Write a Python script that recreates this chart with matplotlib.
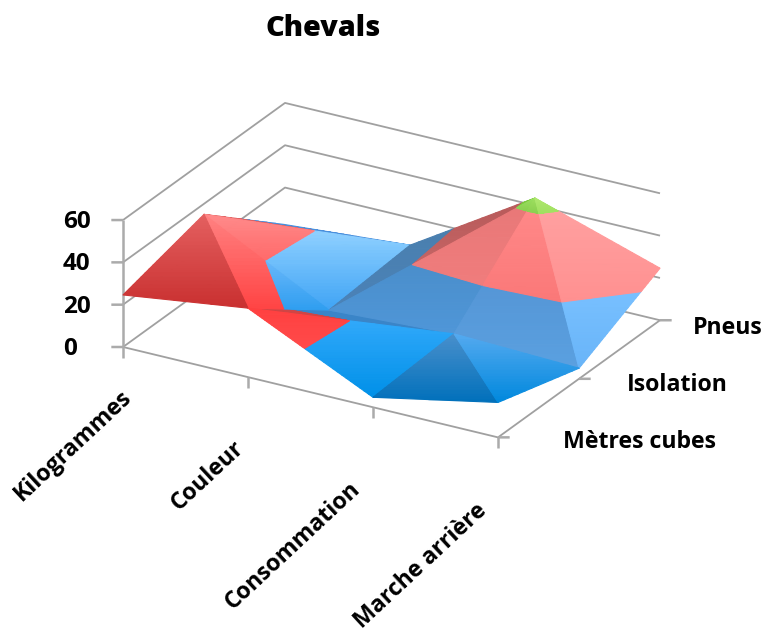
import numpy as np
import matplotlib
matplotlib.use("Agg")
import matplotlib.pyplot as plt
from mpl_toolkits.mplot3d import proj3d
from mpl_toolkits.mplot3d.art3d import Poly3DCollection

plt.rcParams['font.family'] = ['Open Sans', 'DejaVu Sans']

# values
categories = ['Kilogrammes', 'Couleur', 'Consommation', 'Marche arrière']
series = ['Mètres cubes', 'Isolation', 'Pneus']
metres_cubes = [24.6, 32.6, 4.7, 16.5]
isolation = [35, 4, 7, 5]
pneus = [2.5, 7, 43.5, 24.6]
z_ticks = [0, 20, 40, 60]

Z = np.array([metres_cubes, isolation, pneus])  # row = series, col = category

# triangles as (category, series), back to front, (bottom, top) colour per band
faces = [
    ([(0, 1), (0, 2), (1, 2)], {0: ('#4a8fdc', '#4a8fdc'), 1: ('#e06060', '#e06060')}),
    ([(0, 1), (1, 1), (1, 2)], {0: ('#3fa4f5', '#8fd0ff'), 1: ('#ff6a6a', '#ff8a8a')}),
    ([(1, 1), (2, 2), (1, 2)], {0: ('#4a82b8', '#4a7fae'), 1: ('#c46464', '#b85a5a'), 2: ('#7cc840', '#7cc840')}),
    ([(1, 0), (1, 1), (2, 1)], {0: ('#3a85c8', '#3a85c8'), 1: ('#d04545', '#d04545')}),
    ([(0, 1), (1, 0), (1, 1)], {0: ('#2f9ef0', '#6ab8fa'), 1: ('#ff4444', '#ff8282')}),
    ([(0, 0), (0, 1), (1, 0)], {1: ('#c93030', '#e46060')}),
    ([(1, 1), (2, 1), (2, 2)], {0: ('#4f96d8', '#4a8ecb'), 1: ('#f07c7c', '#e87878'), 2: ('#8ad050', '#9be060')}),
    ([(2, 1), (3, 1), (2, 2)], {0: ('#5aa0e0', '#5596d6'), 1: ('#fa7878', '#ff8888'), 2: ('#8ad050', '#a0e060')}),
    ([(3, 1), (2, 2), (3, 2)], {0: ('#68b4f8', '#78c0ff'), 1: ('#ff9090', '#ffa0a0'), 2: ('#a0e060', '#b0e870')}),
    ([(1, 0), (2, 0), (2, 1)], {0: ('#0090e8', '#30a8fa'), 1: ('#ff4a4a', '#ff4040')}),
    ([(2, 0), (3, 0), (2, 1)], {0: ('#0070bb', '#4a90cc')}),
    ([(3, 0), (2, 1), (3, 1)], {0: ('#0088dd', '#55aaf0')}),
]

W, H = 763, 630
BOX = (433, 324, 139.7)
fig = plt.figure(figsize=(W / 100, H / 100), dpi=100)
ax = fig.add_axes([0, 0, 1, 1], projection='3d', proj_type='ortho')
ax.computed_zorder = False
ax.set_xlim(0, 3)
ax.set_ylim(0, 2)
ax.set_zlim(0, 60)
ax.view_init(elev=24.67, azim=-60)
ax.set_box_aspect(BOX, zoom=1)
ax.set_axis_off()


def to_px(x, y, z):
    ax.apply_aspect()
    xs, ys, _ = proj3d.proj_transform(x, y, z, ax.get_proj())
    return ax.transData.transform((xs, ys))


# fit the box on the picture: x axis 375 px wide, front left corner at (123, 347)
ax.set_box_aspect(BOX, zoom=375 / (to_px(3, 0, 0) - to_px(0, 0, 0))[0])
p0 = to_px(0, 0, 0)
ax.set_position([(123 - p0[0]) / W, (H - 347 - p0[1]) / H, 1, 1])

GRID = '#a0a0a0'
AXIS = '#ababab'


def line(xs, ys, zs, color=GRID, lw=1.3):
    ax.plot(xs, ys, zs, color=color, lw=lw, solid_capstyle='butt', zorder=1)


# walls and floor
for v in z_ticks:
    line([0, 0, 3], [0, 2, 2], [v, v, v])
line([0, 3, 3], [0, 0, 2], [0, 0, 0])
line([0, 0], [0, 0], [-5, 60], AXIS, 1.8)
for v in z_ticks:
    line([-0.07, 0], [-0.036, 0], [v, v], AXIS, 1.8)
for i in range(1, 4):
    line([i, i], [0, 0], [-5, 0], AXIS, 1.8)
for j in range(3):
    line([3, 3.07], [j, j + 0.036], [0, 0], AXIS, 1.8)


def clip(poly, idx, lo, hi):
    # cut a polygon to lo <= vertex[idx] <= hi
    for sign, lim in ((1, lo), (-1, hi)):
        out = []
        for a, b in zip(poly, poly[1:] + poly[:1]):
            da, db = sign * (a[idx] - lim), sign * (b[idx] - lim)
            if da >= 0:
                out.append(a)
            if da * db < 0:
                out.append(a + (b - a) * da / (da - db))
        poly = out
        if not poly:
            return []
    return poly


STRIPS = 24
for n, (tri, colours) in enumerate(faces):
    verts = []
    for i, j in tri:
        z = Z[j, i]
        verts.append(np.array([i, j, z, to_px(i, j, z)[1]]))
    for band, (c_low, c_high) in colours.items():
        part = clip(verts, 2, band * 20, (band + 1) * 20)
        if len(part) < 3:
            continue
        g = [p[3] for p in part]
        g0, g1 = min(g), max(g)
        c_low = np.array(matplotlib.colors.to_rgb(c_low))
        c_high = np.array(matplotlib.colors.to_rgb(c_high))
        polys, cols = [], []
        for s in range(STRIPS):
            strip = clip(part, 3, g0 + (g1 - g0) * s / STRIPS, g0 + (g1 - g0) * (s + 1) / STRIPS)
            if len(strip) < 3:
                continue
            polys.append([p[:3] for p in strip])
            cols.append(c_low + (c_high - c_low) * (s + 0.5) / STRIPS)
        pc = Poly3DCollection(polys, facecolors=cols, edgecolors=cols, linewidths=0.8, zorder=10 + n)
        ax.add_collection3d(pc)

# texts
fig.text(323 / W, 1 - 28 / H, 'Chevals', ha='center', va='center', fontsize=20.7, fontweight=800, color='black')
for v, y in zip(z_ticks, [349, 307, 264, 222]):
    fig.text(63 / W, 1 - y / H, str(v), ha='left', va='center', fontsize=17.5, fontweight='bold')
for name, (x, y) in zip(series, [(716, 442), (728, 385), (763, 328)]):
    fig.text(x / W, 1 - y / H, name, ha='right', va='center', fontsize=16.7, fontweight='bold')
for name, (x, y) in zip(categories, [(128, 394), (241, 445), (357, 486), (484, 507)]):
    fig.text(x / W, 1 - y / H, name, ha='right', va='center', rotation=43, rotation_mode='anchor',
             fontsize=16.7, fontweight='bold')

fig.savefig('out.png', dpi=100)
